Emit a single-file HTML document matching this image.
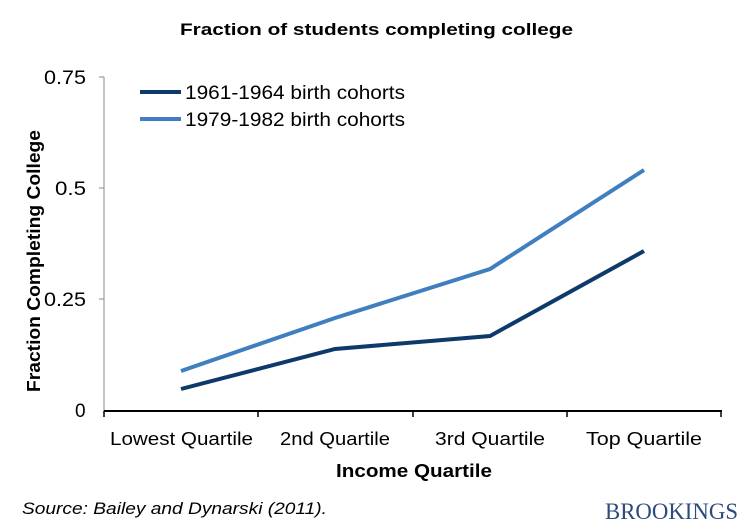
<!DOCTYPE html><html><head><style>body{margin:0;background:#fff}svg{display:block}text{font-family:"Liberation Sans",Arial,sans-serif}</style></head><body>
<svg width="753" height="526" xmlns="http://www.w3.org/2000/svg">
<text x="180" y="35" textLength="393" lengthAdjust="spacingAndGlyphs" font-size="17" font-weight="bold">Fraction of students completing college</text>
<line x1="104" y1="77" x2="104" y2="411" stroke="#888" stroke-width="1"/>
<g stroke="#888"><line x1="99" y1="77" x2="104" y2="77"/><line x1="99" y1="188" x2="104" y2="188"/><line x1="99" y1="299" x2="104" y2="299"/></g>
<line x1="104" y1="411" x2="722" y2="411" stroke="#000" stroke-width="2"/>
<g stroke="#000" stroke-width="1.5"><line x1="104" y1="411" x2="104" y2="417"/><line x1="258" y1="411" x2="258" y2="417"/><line x1="413" y1="411" x2="413" y2="417"/><line x1="567" y1="411" x2="567" y2="417"/><line x1="721" y1="411" x2="721" y2="417"/></g>
<g font-size="19"><text x="44" y="84" textLength="42" lengthAdjust="spacingAndGlyphs">0.75</text><text x="55" y="195" textLength="31" lengthAdjust="spacingAndGlyphs">0.5</text><text x="44" y="306" textLength="42" lengthAdjust="spacingAndGlyphs">0.25</text><text x="75" y="417">0</text></g>
<g font-size="18" lengthAdjust="spacingAndGlyphs"><text x="110" y="445" textLength="143" lengthAdjust="spacingAndGlyphs">Lowest Quartile</text><text x="280" y="445" textLength="110" lengthAdjust="spacingAndGlyphs">2nd Quartile</text><text x="435" y="445" textLength="110" lengthAdjust="spacingAndGlyphs">3rd Quartile</text><text x="586" y="445" textLength="116" lengthAdjust="spacingAndGlyphs">Top Quartile</text></g>
<text x="336" y="477" textLength="156" lengthAdjust="spacingAndGlyphs" font-size="18" font-weight="bold">Income Quartile</text>
<text transform="translate(40,392) rotate(-90)" textLength="262" lengthAdjust="spacingAndGlyphs" font-size="18" font-weight="bold">Fraction Completing College</text>
<polyline points="181,389 335,349 490,336 644,251" fill="none" stroke="#0d3a6b" stroke-width="4"/>
<polyline points="181,371 335,318 490,269 644,170" fill="none" stroke="#3f7fbf" stroke-width="4"/>
<line x1="140" y1="92" x2="181" y2="92" stroke="#0d3a6b" stroke-width="4"/>
<line x1="140" y1="119" x2="181" y2="119" stroke="#3f7fbf" stroke-width="4"/>
<g font-size="19"><text x="185" y="99" textLength="220" lengthAdjust="spacingAndGlyphs">1961-1964 birth cohorts</text><text x="185" y="126" textLength="220" lengthAdjust="spacingAndGlyphs">1979-1982 birth cohorts</text></g>
<text x="22" y="514" textLength="305" lengthAdjust="spacingAndGlyphs" font-size="17" font-style="italic">Source: Bailey and Dynarski (2011).</text>
<text x="605" y="519" textLength="133" lengthAdjust="spacingAndGlyphs" font-size="23" fill="#2c4a7c" style="font-family:'Liberation Serif',serif">BROOKINGS</text>
</svg></body></html>
